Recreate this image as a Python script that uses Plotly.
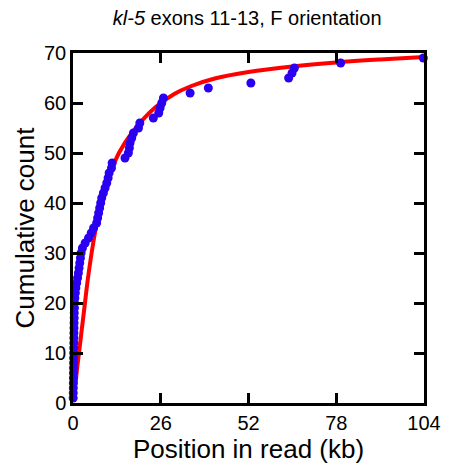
import plotly.graph_objects as go

# Observed positions (kb) of each event, sorted; cumulative count = rank
positions_kb = [0.05, 0.07, 0.09, 0.10, 0.12, 0.14, 0.15, 0.17, 0.19, 0.20,
                0.22, 0.24, 0.26, 0.28, 0.30, 0.32, 0.35, 0.38, 0.42, 0.46,
                0.55, 0.70, 0.85, 1.10, 1.35, 1.60, 1.80, 2.00, 2.20, 2.40,
                2.80, 3.60, 4.60, 5.40, 6.10, 7.00, 7.30, 7.60, 7.90, 8.20,
                8.50, 9.00, 9.50, 10.0, 10.4, 10.7, 11.4, 11.6, 15.4, 16.4,
                16.7, 16.9, 17.4, 17.9, 19.4, 19.8, 23.8, 25.4, 25.8, 26.3,
                26.8, 34.7, 40.1, 52.7, 63.9, 64.9, 65.6, 79.3, 103.8]
cumulative_count = list(range(1, len(positions_kb) + 1))

# Fitted curve
fit_x_kb = [0.7, 1.2, 1.78, 2.47, 3.46, 4.25, 5.24, 6.5, 8.2, 10.5, 13.6, 18.1,
            24.5, 30, 34.7, 42, 52, 65, 78, 91, 104]
fit_y = [3.5, 6.8, 10, 14, 19.5, 24, 28.8, 34, 39.5, 44.8, 50, 54.6,
         59.2, 61.8, 63.3, 64.9, 66.2, 67.3, 68.1, 68.7, 69.2]

x_ticks = [0, 26, 52, 78, 104]
y_ticks = [0, 10, 20, 30, 40, 50, 60, 70]

fig = go.Figure()
fig.add_trace(go.Scatter(x=fit_x_kb, y=fit_y, mode="lines",
                         line=dict(color="#ff0000", width=4, shape="spline", smoothing=1.0),
                         cliponaxis=False, showlegend=False))
fig.add_trace(go.Scatter(x=positions_kb, y=cumulative_count, mode="markers",
                         marker=dict(color="#2a00f0", size=9, line=dict(width=0)),
                         cliponaxis=False, showlegend=False))

axis_common = dict(showline=True, linecolor="black", linewidth=2.5, mirror="ticks",
                   ticks="inside", ticklen=10, tickwidth=2.5, tickcolor="black",
                   showgrid=False, zeroline=False,
                   tickfont=dict(family="Arial", size=20, color="black"))

fig.update_layout(
    width=462, height=469,
    margin=dict(l=73, r=38, t=53, b=66),
    paper_bgcolor="white", plot_bgcolor="white",
    title=dict(text="<i>kl-5</i> exons 11-13, F orientation",
               font=dict(family="Arial", size=20, color="black"),
               x=0.535, xanchor="center", y=0.962, yanchor="middle"),
    xaxis=dict(range=[0, 104], tickvals=x_ticks,
               title=dict(text="Position in read (kb)", standoff=2,
                          font=dict(family="Arial", size=26, color="black")),
               **axis_common),
    yaxis=dict(range=[0, 70], tickvals=y_ticks,
               title=dict(text="Cumulative count", standoff=2,
                          font=dict(family="Arial", size=26, color="black")),
               **axis_common),
)

fig.write_html("out.html")
